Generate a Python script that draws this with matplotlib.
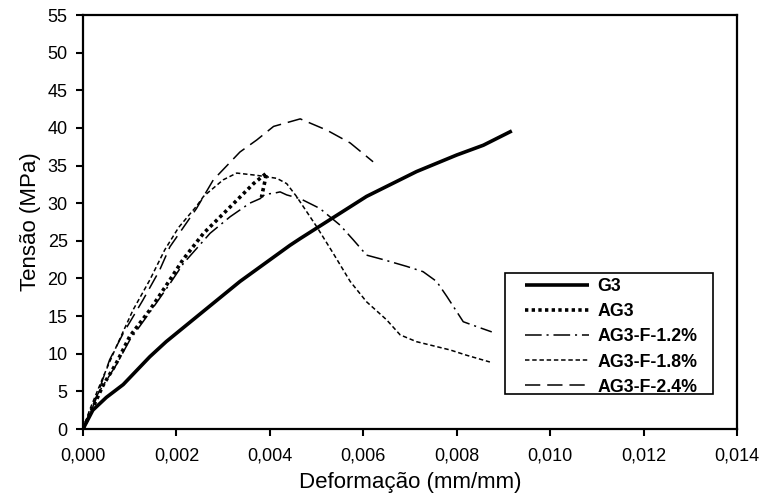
import matplotlib
matplotlib.use("Agg")
import matplotlib.pyplot as plt
from matplotlib.patches import Rectangle

plt.rcParams['font.family'] = ['Liberation Sans', 'DejaVu Sans']
plt.rcParams['lines.scale_dashes'] = False

# ---- data (strain mm/mm, stress MPa) ----
g3_x = [0, 0.00021, 0.00050, 0.00086, 0.00143, 0.00178, 0.00253, 0.00336, 0.00443,
        0.00465, 0.00607, 0.00714, 0.00800, 0.00857, 0.00918]
g3_y = [0, 2.5, 4.2, 5.9, 9.6, 11.6, 15.4, 19.6, 24.4, 25.3, 30.9, 34.2, 36.4, 37.7, 39.6]

ag3_x = [0, 0.00043, 0.00071, 0.00100, 0.00143, 0.00186, 0.00214, 0.00258, 0.00315,
         0.00365, 0.00393, 0.00388, 0.00382]
ag3_y = [0, 5.8, 8.7, 12.3, 15.8, 19.8, 22.5, 26.0, 29.5, 32.6, 34.0, 32.5, 30.8]

f12_x = [0, 0.00030, 0.00071, 0.00100, 0.00143, 0.00186, 0.00215, 0.00272, 0.00315,
         0.00357, 0.00379, 0.00390, 0.00407, 0.00422, 0.00436, 0.00465, 0.00507, 0.00550,
         0.00579, 0.00607, 0.00643, 0.00693, 0.00728, 0.00757, 0.00779, 0.00814, 0.00843,
         0.00875]
f12_y = [0, 4.5, 8.5, 11.8, 15.5, 19.3, 22.0, 26.0, 28.2, 30.0, 30.6, 31.2, 31.3, 31.5,
         31.1, 30.6, 29.3, 27.1, 25.1, 23.1, 22.5, 21.6, 20.9, 19.6, 17.6, 14.25, 13.6, 12.9]

f18_x = [0, 0.00014, 0.00043, 0.00071, 0.00107, 0.00143, 0.00175, 0.00205, 0.00243,
         0.00258, 0.00300, 0.00329, 0.00372, 0.00415, 0.00436, 0.00457, 0.00500, 0.00536,
         0.00572, 0.00607, 0.00650, 0.00679, 0.00714, 0.00786, 0.00821, 0.00871]
f18_y = [0, 2.5, 6.9, 10.9, 15.8, 19.8, 23.8, 26.8, 29.6, 30.9, 33.1, 34.0, 33.7, 33.3,
         32.6, 30.9, 26.9, 23.3, 19.6, 16.9, 14.5, 12.5, 11.6, 10.5, 9.8, 8.9]

f24_x = [0, 0.00025, 0.00057, 0.00086, 0.00128, 0.00164, 0.00186, 0.00243, 0.00279,
         0.00336, 0.00372, 0.00408, 0.00465, 0.00522, 0.00572, 0.00621]
f24_y = [0, 3.5, 9.2, 12.7, 17.1, 21.1, 24.2, 29.3, 33.1, 36.8, 38.4, 40.2, 41.2, 39.7,
         38.0, 35.5]

labels = ["G3", "AG3", "AG3-F-1.2%", "AG3-F-1.8%", "AG3-F-2.4%"]
x_ticks = [0, 0.002, 0.004, 0.006, 0.008, 0.010, 0.012, 0.014]
x_ticklabels = ["0,000", "0,002", "0,004", "0,006", "0,008", "0,010", "0,012", "0,014"]
y_ticks = [0, 5, 10, 15, 20, 25, 30, 35, 40, 45, 50, 55]

fig = plt.figure(figsize=(7.64, 5.03), dpi=100)
ax = fig.add_axes([83 / 764, 1 - 429 / 503, (737 - 83) / 764, (429 - 15) / 503])

ax.plot(g3_x, g3_y, color='black', lw=2.6, solid_capstyle='butt', label=labels[0])
ax.plot(ag3_x, ag3_y, color='black', lw=2.6, linestyle=(0, (2.4, 2.4)), label=labels[1])
ax.plot(f12_x, f12_y, color='black', lw=1.1, linestyle=(0, (12, 3.5, 1.5, 3.5)), label=labels[2])
ax.plot(f18_x, f18_y, color='black', lw=1.1, linestyle=(0, (3.2, 2.0)), label=labels[3])
ax.plot(f24_x, f24_y, color='black', lw=1.1, linestyle=(0, (11, 5)), label=labels[4])

ax.set_xlim(0, 0.014)
ax.set_ylim(0, 55)
ax.set_xticks(x_ticks)
ax.set_xticklabels(x_ticklabels)
ax.set_yticks(y_ticks)
ax.tick_params(axis='both', direction='out', length=5, width=1.5, labelsize=13,
               colors='black')
ax.tick_params(axis='x', pad=8)
ax.tick_params(axis='y', pad=6)
for s in ax.spines.values():
    s.set_linewidth(1.6)
    s.set_color('black')

ax.set_xlabel("Deformação (mm/mm)", fontsize=16, labelpad=6)
ax.set_ylabel("Tensão (MPa)", fontsize=16, labelpad=5)

# legend box
rx0 = (505 - 83) / 654
ry0 = (429 - 394) / 414
rw = (713 - 505) / 654
rh = (394 - 273) / 414
ax.add_patch(Rectangle((rx0, ry0), rw, rh, transform=ax.transAxes, fill=False,
                       edgecolor='black', lw=1.2, zorder=5))
leg = ax.legend(loc='upper left', bbox_to_anchor=((528 - 83) / 654 - 0.005, (429 - 278) / 414),
                frameon=False, prop={'weight': 'bold', 'size': 12.8}, handlelength=3.6,
                handletextpad=0.5, labelspacing=0.46, borderpad=0.0, borderaxespad=0.0)

fig.savefig("out.png", dpi=100)
